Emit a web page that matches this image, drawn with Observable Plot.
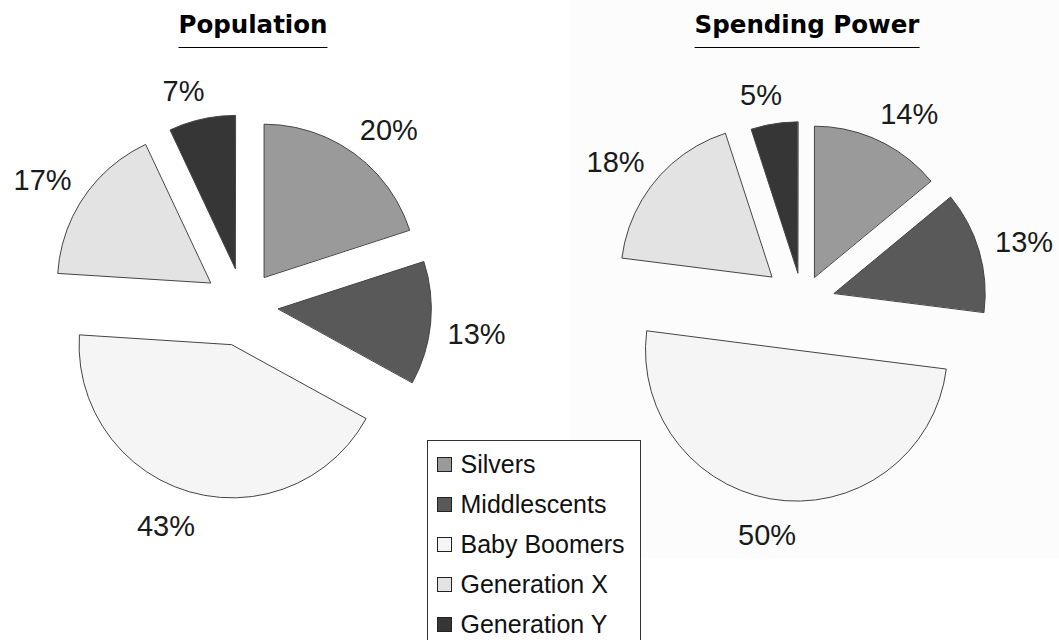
<!DOCTYPE html>
<html>
<head>
<meta charset="utf-8">
<script src="https://cdn.jsdelivr.net/npm/d3@7"></script>
<script src="https://cdn.jsdelivr.net/npm/@observablehq/plot@0.6"></script>
<style>
  html, body { margin: 0; padding: 0; background: #fff; }
  #root { position: relative; width: 1059px; height: 640px; overflow: hidden; font-family: "Liberation Sans", Arial, sans-serif; }
  .panel { position: absolute; top: 0; }
  .bg { position: absolute; left: 570px; top: 0; width: 489px; height: 558px; background: #fcfcfc; }
  .title { position: absolute; top: 11px; height: 36px; line-height: 27px; font-size: 24.5px; font-weight: bold; color: #000;
           font-family: "DejaVu Sans", sans-serif;
           border-bottom: 1.6px solid #000; transform: translateX(-50%); white-space: nowrap; }
  .legend { position: absolute; left: 427px; top: 440px; width: 214px; height: 230px; border: 1.5px solid #333; background: #fff; box-sizing: border-box; }
  .row { position: absolute; left: 0; height: 40px; display: flex; align-items: center; font-size: 25px; color: #111; white-space: nowrap; }
  .sw { width: 15px; height: 15px; border: 1px solid #222; margin-left: 8.5px; margin-right: 9px; box-sizing: border-box; }
</style>
</head>
<body>
<div id="root">
  <div class="bg"></div>
</div>
<script>
// ---- data ----
const categories = ["Silvers", "Middlescents", "Baby Boomers", "Generation X", "Generation Y"];
const populationValues = [20, 13, 43, 17, 7];
const spendingValues = [14, 13, 50, 18, 5];
const chartTitles = ["Population", "Spending Power"];
const sliceColors = ["#9a9a9a", "#595959", "#f5f5f5", "#e3e3e3", "#363636"];

// ---- layout (explode distance per slice, radius, panel geometry) ----
const panels = [
  {values: populationValues, title: chartTitles[0], left: 0, width: 530, cx: 243, cy: 305, r: 153,
   explode: [35, 35, 41, 40, 38], labelR: 180, titleX: 253},
  {values: spendingValues, title: chartTitles[1], left: 530, width: 529, cx: 272, cy: 302, r: 151,
   explode: [28, 33, 48, 40, 30], labelR: 178, titleX: 807}
];
const labelShiftX = 19, labelShiftY = 5, labelDrop = 4;
const H = 640;
const root = document.getElementById("root");

for (const p of panels) {
  const rows = categories.map((name, i) => ({name, value: p.values[i], i}));
  const arcs = d3.pie().sort(null).value(d => d.value).startAngle(0).endAngle(2 * Math.PI)(rows);
  const pts = [];
  const labels = [];
  for (const a of arcs) {
    const m = (a.startAngle + a.endAngle) / 2;
    const e = p.explode[a.data.i];
    const sm = Math.sin(m), cm = Math.cos(m);
    const ox = e * sm, oy = e * cm;
    pts.push({name: a.data.name, x: ox, y: oy});
    const n = Math.max(2, Math.ceil((a.endAngle - a.startAngle) / (Math.PI / 30)));
    for (let k = 0; k <= n; k++) {
      const t = a.startAngle + (a.endAngle - a.startAngle) * k / n;
      pts.push({name: a.data.name, x: ox + p.r * Math.sin(t), y: oy + p.r * Math.cos(t)});
    }
    labels.push({
      x: ox + p.labelR * sm + labelShiftX * Math.sign(sm) * Math.min(1, Math.abs(sm) * 3),
      y: oy + p.labelR * cm + labelShiftY * Math.sign(cm) - labelDrop,
      text: a.data.value + "%"
    });
  }
  const chart = Plot.plot({
    width: p.width, height: H, margin: 0,
    x: {domain: [-p.cx, p.width - p.cx], axis: null},
    y: {domain: [-(H - p.cy), p.cy], axis: null},
    color: {domain: categories, range: sliceColors},
    style: {background: "transparent", overflow: "visible"},
    marks: [
      Plot.line(pts, {x: "x", y: "y", z: "name", fill: "name", stroke: "#444", strokeWidth: 1, curve: "linear-closed"}),
      Plot.text(labels, {x: "x", y: "y", text: "text", fontSize: 29, fill: "#1a1a1a",
        fontFamily: "Liberation Sans, Arial, sans-serif", textAnchor: "middle", lineAnchor: "middle"})
    ]
  });
  const wrap = document.createElement("div");
  wrap.className = "panel";
  wrap.style.left = p.left + "px";
  wrap.appendChild(chart);
  root.appendChild(wrap);

  const t = document.createElement("div");
  t.className = "title";
  t.style.left = p.titleX + "px";
  t.textContent = p.title;
  root.appendChild(t);
}

// legend
const legend = document.createElement("div");
legend.className = "legend";
categories.forEach((name, i) => {
  const row = document.createElement("div");
  row.className = "row";
  row.style.top = (3 + i * 40) + "px";
  const sw = document.createElement("div");
  sw.className = "sw";
  sw.style.background = sliceColors[i];
  const label = document.createElement("span");
  label.textContent = name;
  row.appendChild(sw);
  row.appendChild(label);
  legend.appendChild(row);
});
root.appendChild(legend);
</script>
</body>
</html>
